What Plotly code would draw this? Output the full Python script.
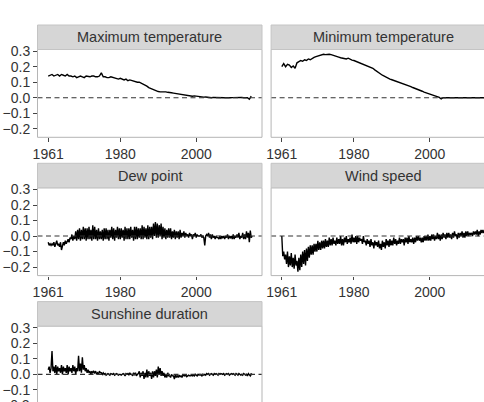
import plotly.graph_objects as go

# ---------------- data ----------------
years = list(range(1961, 2015))

# half-yearly values (2 per year)
max_temp = [
    0.14, 0.145, 0.15, 0.14, 0.145, 0.15, 0.14, 0.15, 0.145, 0.14,
    0.15, 0.14, 0.14, 0.135, 0.14, 0.13, 0.135, 0.14, 0.135, 0.13,
    0.14, 0.135, 0.135, 0.14, 0.14, 0.135, 0.135, 0.14, 0.16, 0.135,
    0.135, 0.13, 0.13, 0.135, 0.13, 0.125, 0.125, 0.12, 0.125, 0.12,
    0.115, 0.12, 0.11, 0.115, 0.11, 0.105, 0.105, 0.1, 0.1, 0.095,
    0.09, 0.08, 0.075, 0.065, 0.06, 0.05, 0.045, 0.04, 0.04, 0.038,
    0.038, 0.04, 0.038, 0.035, 0.035, 0.032, 0.03, 0.028, 0.025, 0.022,
    0.02, 0.018, 0.018, 0.015, 0.012, 0.014, 0.01, 0.012, 0.01, 0.008,
    0.006, 0.008, 0.004, 0.005, 0.003, 0.002, 0.0, 0.002, 0.001, 0.0,
    0.0, 0.002, 0.001, 0.0, 0.0, 0.002, 0.0, 0.001, 0.002, 0.0,
    0.0, 0.001, 0.002, 0.0, 0.001, 0.0, -0.01, 0.01,
]

min_temp = [
    0.2, 0.22, 0.2, 0.215, 0.21, 0.195, 0.205, 0.19, 0.225, 0.235,
    0.24, 0.235, 0.245, 0.24, 0.25, 0.245, 0.255, 0.26, 0.265, 0.27,
    0.27, 0.275, 0.28, 0.278, 0.28, 0.28, 0.278, 0.275, 0.272, 0.265,
    0.262, 0.258, 0.255, 0.25, 0.25, 0.255, 0.248, 0.242, 0.24, 0.235,
    0.228, 0.222, 0.218, 0.212, 0.208, 0.204, 0.2, 0.196, 0.19, 0.18,
    0.17, 0.16, 0.15, 0.145, 0.14, 0.132, 0.126, 0.12, 0.116, 0.112,
    0.108, 0.104, 0.1, 0.096, 0.092, 0.088, 0.082, 0.076, 0.072, 0.066,
    0.062, 0.056, 0.05, 0.046, 0.042, 0.036, 0.032, 0.026, 0.022, 0.018,
    0.014, 0.01, 0.006, 0.002, -0.008, 0.0, 0.0, 0.001, 0.0, 0.0,
    0.001, 0.0, 0.0, 0.0, 0.001, 0.0, 0.0, 0.0, 0.001, 0.0,
    0.0, 0.0, 0.0, 0.0, 0.0, 0.001, 0.0, 0.0,
]

# quarterly values (4 per year)
dew_point = [
    -0.04, -0.06, -0.05, -0.06, -0.05, -0.06, -0.04, -0.07, -0.05, -0.03, -0.06, -0.05,
    -0.07, -0.04, -0.09, -0.05, -0.04, -0.06, -0.03, -0.05, -0.03, -0.02, -0.04, -0.01,
    -0.02, 0.01, -0.03, 0.0, -0.02, 0.03, -0.03, 0.04, -0.02, 0.05, -0.03, 0.04,
    -0.02, 0.06, -0.02, 0.05, -0.03, 0.05, -0.02, 0.06, -0.02, 0.04, -0.03, 0.07,
    -0.02, 0.06, -0.02, 0.04, -0.03, 0.05, -0.02, 0.03, -0.02, 0.04, -0.03, 0.05,
    -0.02, 0.05, -0.02, 0.04, -0.03, 0.04, -0.01, 0.06, -0.02, 0.05, -0.03, 0.04,
    -0.01, 0.06, -0.02, 0.05, -0.02, 0.05, -0.01, 0.04, -0.03, 0.06, -0.02, 0.05,
    -0.02, 0.05, -0.02, 0.06, -0.01, 0.04, -0.03, 0.06, -0.02, 0.06, -0.02, 0.05,
    -0.01, 0.05, -0.02, 0.07, -0.02, 0.06, -0.01, 0.05, -0.02, 0.07, -0.02, 0.06,
    -0.01, 0.06, -0.02, 0.08, 0.0, 0.09, -0.01, 0.08, -0.01, 0.07, 0.0, 0.08,
    -0.02, 0.06, -0.01, 0.05, -0.02, 0.04, -0.01, 0.05, -0.01, 0.05, -0.02, 0.03,
    -0.01, 0.04, -0.02, 0.03, -0.01, 0.03, -0.02, 0.04, -0.01, 0.02, 0.0, 0.03,
    -0.01, 0.02, 0.0, 0.01, -0.01, 0.02, 0.0, 0.01, -0.02, 0.01, 0.0, 0.02,
    -0.01, 0.01, 0.0, 0.0, 0.0, 0.01, -0.01, 0.0, -0.01, -0.06, 0.0, 0.01,
    0.0, 0.02, -0.01, 0.01, -0.02, 0.01, -0.01, 0.0, -0.02, 0.0, -0.01, -0.01,
    -0.02, 0.0, -0.02, 0.0, -0.01, 0.0, -0.02, 0.0, -0.01, 0.01, -0.02, 0.0,
    -0.01, 0.0, -0.02, 0.01, -0.02, 0.0, -0.01, 0.01, -0.01, 0.02, -0.02, 0.0,
    -0.01, 0.02, -0.02, 0.01, -0.02, 0.03, -0.01, 0.02, -0.04, 0.035, -0.01, 0.0,
]

wind_speed = [
    0.0, -0.13, -0.10, -0.15, -0.12, -0.18, -0.10, -0.20, -0.13, -0.19, -0.11, -0.20,
    -0.14, -0.21, -0.12, -0.19, -0.16, -0.23, -0.14, -0.22, -0.12, -0.20, -0.10, -0.18,
    -0.09, -0.19, -0.08, -0.16, -0.07, -0.14, -0.06, -0.12, -0.06, -0.12, -0.05, -0.10,
    -0.05, -0.10, -0.03, -0.09, -0.04, -0.09, -0.03, -0.08, -0.03, -0.08, -0.02, -0.07,
    -0.03, -0.07, -0.01, -0.06, -0.02, -0.06, -0.01, -0.05, -0.03, -0.06, -0.01, -0.05,
    -0.02, -0.05, 0.0, -0.06, -0.02, -0.06, -0.01, -0.04, 0.0, -0.05, -0.02, -0.04,
    -0.01, -0.05, 0.01, -0.04, -0.01, -0.04, 0.0, -0.05, 0.0, -0.04, -0.01, -0.03,
    -0.02, -0.05, 0.0, -0.04, -0.03, -0.06, -0.02, -0.05, -0.03, -0.07, -0.02, -0.06,
    -0.04, -0.08, -0.03, -0.06, -0.04, -0.07, -0.03, -0.08, -0.05, -0.09, -0.03, -0.07,
    -0.04, -0.08, -0.02, -0.06, -0.03, -0.07, -0.02, -0.06, -0.03, -0.06, -0.01, -0.05,
    -0.02, -0.06, -0.03, -0.05, -0.01, -0.05, -0.02, -0.04, -0.02, -0.06, -0.01, -0.04,
    -0.01, -0.05, 0.0, -0.04, -0.02, -0.04, -0.01, -0.05, -0.01, -0.04, 0.0, -0.03,
    0.0, -0.03, -0.01, -0.04, -0.01, -0.04, 0.0, -0.03, 0.0, -0.03, 0.01, -0.03,
    0.0, -0.03, 0.01, -0.02, 0.01, -0.03, 0.0, -0.02, 0.02, -0.02, 0.01, -0.03,
    0.01, -0.02, 0.02, -0.01, 0.01, -0.02, 0.02, -0.01, 0.02, -0.01, 0.01, -0.02,
    0.02, -0.01, 0.03, 0.0, 0.01, -0.02, 0.02, -0.01, 0.02, 0.0, 0.03, -0.01,
    0.02, -0.01, 0.03, 0.0, 0.03, 0.0, 0.02, 0.01, 0.02, 0.0, 0.03, 0.01,
    0.03, 0.01, 0.04, 0.0, 0.03, 0.01, 0.04, 0.02, 0.04, 0.02, 0.03, 0.02,
]

sunshine = [
    0.03, 0.05, 0.01, 0.04, 0.15, 0.02, 0.05, 0.01, 0.06, 0.0, 0.05, 0.02,
    0.04, 0.01, 0.06, 0.0, 0.05, 0.02, 0.04, 0.01, 0.06, 0.0, 0.05, 0.02,
    0.04, 0.01, 0.06, 0.02, 0.05, 0.0, 0.04, 0.02, 0.12, 0.02, 0.07, 0.01,
    0.11, 0.03, 0.06, 0.02, 0.04, 0.01, 0.03, 0.01, 0.02, 0.0, 0.02, 0.01,
    0.02, 0.01, 0.02, 0.0, 0.01, 0.0, 0.02, 0.01, 0.01, 0.0, 0.01, 0.0,
    0.005, -0.005, 0.0, 0.005, 0.0, -0.005, 0.005, 0.0, 0.0, 0.005, -0.005, 0.0,
    0.005, 0.0, -0.005, 0.0, 0.0, -0.005, 0.0, 0.005, 0.0, -0.01, 0.005, 0.0,
    0.005, -0.005, 0.01, 0.0, 0.0, -0.01, 0.01, -0.005, 0.01, -0.01, 0.0, 0.005,
    0.02, -0.02, 0.01, -0.01, 0.02, -0.03, 0.01, -0.02, 0.03, -0.02, 0.02, -0.01,
    0.01, -0.03, 0.02, -0.02, 0.02, -0.01, 0.03, -0.02, 0.05, 0.0, 0.04, -0.01,
    0.02, -0.01, 0.01, -0.02, 0.0, -0.02, 0.01, -0.01, -0.01, -0.02, 0.0, -0.01,
    -0.01, -0.03, 0.0, -0.02, -0.01, -0.02, -0.005, -0.015, -0.01, -0.02, -0.005, -0.01,
    -0.01, -0.005, -0.015, -0.01, -0.005, -0.01, -0.01, -0.005, -0.01, -0.005, -0.01, 0.0,
    -0.005, -0.01, 0.0, -0.005, 0.0, -0.005, -0.01, 0.0, -0.005, 0.0, -0.005, 0.005,
    0.0, 0.005, -0.005, 0.0, 0.005, 0.0, -0.005, 0.005, 0.0, 0.005, 0.0, -0.005,
    0.005, 0.0, 0.005, 0.0, 0.0, 0.005, -0.005, 0.0, 0.005, 0.0, 0.005, -0.005,
    0.0, 0.005, 0.0, 0.005, 0.0, -0.005, 0.005, 0.0, -0.005, 0.005, 0.0, -0.005,
    0.0, -0.005, 0.005, 0.0, -0.005, 0.0, -0.01, 0.005, 0.0, -0.01, 0.005, -0.005,
]

panel_titles = ["Maximum temperature", "Minimum temperature", "Dew point",
                "Wind speed", "Sunshine duration"]
x_ticks = [1961, 1980, 2000]
y_ticks = [-0.2, -0.1, 0.0, 0.1, 0.2, 0.3]

half_x = [y + h / 2 for y in years for h in range(2)]
quart_x = [y + q / 4 for y in years for q in range(4)]
series = [(half_x, max_temp), (half_x, min_temp), (quart_x, dew_point),
          (quart_x, wind_speed), (quart_x, sunshine)]

# ---------------- layout geometry (pixels) ----------------
W, H = 484, 402
col_x = [(37.5, 262.0), (271.1, 495.6)]
row_top = [49.5, 187.8, 326.1]   # plot area top
panel_h = 87.8
strip_h = 24.5
px_per_year = 3.795
x_left = 1958.18
y_top, y_bot = 0.311, -0.255
px_per_unit = panel_h / (y_top - y_bot)

def px(x):
    return x / W

def py(y):
    return 1 - y / H

fig = go.Figure()
shapes = []
annotations = []
font_family = "Liberation Sans, Arial, sans-serif"
tick_font = dict(size=14, color="#333", family=font_family)

for i, (title, (xs, ys)) in enumerate(zip(panel_titles, series)):
    r, c = divmod(i, 2)
    n = i + 1
    xa = "xaxis" if n == 1 else f"xaxis{n}"
    ya = "yaxis" if n == 1 else f"yaxis{n}"
    xref = "x" if n == 1 else f"x{n}"
    yref = "y" if n == 1 else f"y{n}"
    x0p, x1p = col_x[c]
    t = row_top[r]
    b = t + panel_h
    vis_x1 = min(x1p, W)
    vis_b = min(b, H)
    xr = [x_left, x_left + (vis_x1 - x0p) / px_per_year]
    yr = [y_top - (vis_b - t) / px_per_unit, y_top]

    fig.add_trace(go.Scatter(x=xs, y=ys, mode="lines", xaxis=xref, yaxis=yref,
                             line=dict(color="black", width=1.4),
                             showlegend=False, hoverinfo="skip"))

    fig.layout[xa] = dict(domain=[px(x0p), px(vis_x1)], range=xr, anchor=yref,
                          tickvals=x_ticks, ticktext=[str(v) for v in x_ticks],
                          ticks="outside", ticklen=3.5, tickcolor="#444",
                          tickwidth=1, showgrid=False, zeroline=False,
                          showline=False, automargin=False,
                          showticklabels=(b <= H), tickfont=tick_font)
    fig.layout[ya] = dict(domain=[py(vis_b), py(t)], range=yr, anchor=xref,
                          tickvals=y_ticks, tickformat=".1f",
                          ticks="outside" if c == 0 else "", ticklen=3.5,
                          tickcolor="#444", tickwidth=1, showgrid=False,
                          zeroline=False, showline=False, automargin=False,
                          showticklabels=(c == 0), tickfont=tick_font)

    # dashed zero reference line
    shapes.append(dict(type="line", xref=f"{xref} domain", yref=yref,
                       x0=0, x1=1, y0=0, y1=0,
                       line=dict(color="#333", width=1.1, dash="5px,3.5px"),
                       layer="above"))
    # panel border
    shapes.append(dict(type="rect", xref="paper", yref="paper",
                       x0=px(x0p), x1=px(x1p), y0=py(b), y1=py(t),
                       line=dict(color="#b5b5b5", width=1), fillcolor="rgba(0,0,0,0)",
                       layer="above"))
    # strip
    shapes.append(dict(type="rect", xref="paper", yref="paper",
                       x0=px(x0p), x1=px(x1p), y0=py(t), y1=py(t - strip_h),
                       line=dict(color="#c4c4c4", width=1), fillcolor="#d6d6d6",
                       layer="above"))
    annotations.append(dict(text=title, xref="paper", yref="paper",
                            x=px((x0p + x1p) / 2), y=py(t - strip_h / 2),
                            xanchor="center", yanchor="middle", showarrow=False,
                            font=dict(size=14.5, color="#333", family=font_family)))

# bottom tick label of the last panel, cut by the frame
cut_y = row_top[2] + (y_top - y_ticks[0]) * px_per_unit
annotations.append(dict(text="\u22120.2", xref="paper", yref="paper",
                        x=px(32.0), y=py(cut_y),
                        xanchor="right", yanchor="middle", showarrow=False,
                        font=tick_font))

fig.update_layout(width=W, height=H, margin=dict(l=0, r=0, t=0, b=0),
                  template="none", paper_bgcolor="white", plot_bgcolor="white",
                  shapes=shapes, annotations=annotations, showlegend=False)

fig.write_html("out.html")
